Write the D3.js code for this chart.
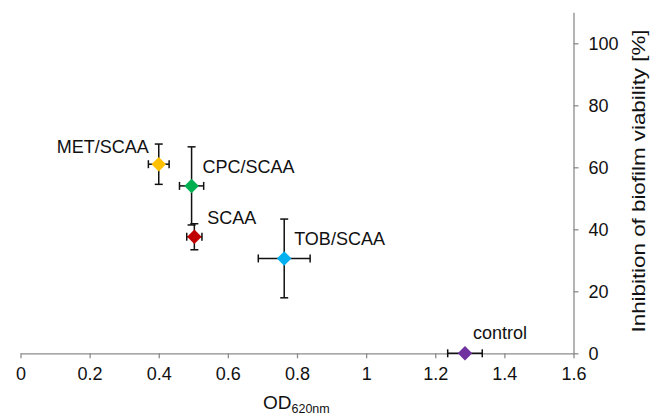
<!DOCTYPE html>
<html>
<head>
<meta charset="utf-8">
<script src="https://cdn.jsdelivr.net/npm/d3@7"></script>
<style>
  html, body { margin: 0; padding: 0; background: #fff; }
  svg { display: block; font-family: "Liberation Sans", Arial, sans-serif; }
</style>
</head>
<body>
<svg id="chart" width="651" height="415"></svg>
<script>
// data
const names   = ["MET/SCAA", "CPC/SCAA", "SCAA", "TOB/SCAA", "control"];
const odVals  = [0.40, 0.495, 0.503, 0.763, 1.286];
const odErr   = [0.03, 0.035, 0.022, 0.075, 0.05];
const inhVals = [61.0, 54.0, 37.6, 30.6, 0];
const inhErr  = [6.5, 12.6, 4.2, 12.7, 0];
const colors  = ["#FFC000", "#00B050", "#C00000", "#00B0F0", "#7030A0"];
const xTicks  = [0, 0.2, 0.4, 0.6, 0.8, 1, 1.2, 1.4, 1.6];
const yTicks  = [0, 20, 40, 60, 80, 100];

const width = 651;
const height = 415;
const svg = d3.select("#chart");

const x = d3.scaleLinear().domain([0, 1.6]).range([20.5, 573.5]);
const y = d3.scaleLinear().domain([0, 110]).range([353.3, 12.3]);

const axisColor = "#8c8c8c";

// x axis
const xAxis = svg.append("g")
  .attr("transform", `translate(0, ${y(0)})`)
  .call(d3.axisBottom(x).tickValues(xTicks).tickSizeInner(5).tickSizeOuter(0)
    .tickPadding(9).tickFormat(d => String(d)));
xAxis.select(".domain").attr("stroke", axisColor).attr("stroke-width", 1.3);
xAxis.selectAll(".tick line").attr("stroke", axisColor).attr("stroke-width", 1.3);
xAxis.selectAll(".tick text").attr("font-size", 18).attr("fill", "#111")
  .attr("font-family", "Liberation Sans, Arial, sans-serif");

// y axis on the right
const yAxis = svg.append("g")
  .attr("transform", `translate(${x(1.6)}, 0)`)
  .call(d3.axisRight(y).tickValues(yTicks).tickSizeInner(5).tickSizeOuter(0)
    .tickPadding(10));
yAxis.select(".domain").attr("stroke", axisColor).attr("stroke-width", 1.3);
yAxis.selectAll(".tick line").attr("stroke", axisColor).attr("stroke-width", 1.3);
yAxis.selectAll(".tick text").attr("font-size", 18).attr("fill", "#111")
  .attr("font-family", "Liberation Sans, Arial, sans-serif");

// axis titles
const xTitle = svg.append("text")
  .attr("x", 263)
  .attr("y", 409)
  .attr("font-size", 19)
  .attr("fill", "#111");
xTitle.append("tspan").text("OD");
xTitle.append("tspan").attr("font-size", 12.5).attr("dy", 4).text("620nm");

svg.append("text")
  .attr("transform", `translate(639, 181) rotate(-90)`)
  .attr("text-anchor", "middle")
  .attr("dy", "0.35em")
  .attr("font-size", 18)
  .attr("textLength", 303)
  .attr("lengthAdjust", "spacingAndGlyphs")
  .attr("fill", "#111")
  .text("Inhibition of biofilm viability [%]");

const points = names.map((n, i) => ({
  name: n, od: odVals[i], odE: odErr[i], inh: inhVals[i], inhE: inhErr[i], color: colors[i]
}));

// error bars
const cap = 4;
const bars = svg.append("g").attr("stroke", "#111").attr("stroke-width", 1.5);
points.forEach(d => {
  const cx = x(d.od), cy = y(d.inh);
  if (d.odE > 0) {
    bars.append("line").attr("x1", x(d.od - d.odE)).attr("x2", x(d.od + d.odE)).attr("y1", cy).attr("y2", cy);
    bars.append("line").attr("x1", x(d.od - d.odE)).attr("x2", x(d.od - d.odE)).attr("y1", cy - cap).attr("y2", cy + cap);
    bars.append("line").attr("x1", x(d.od + d.odE)).attr("x2", x(d.od + d.odE)).attr("y1", cy - cap).attr("y2", cy + cap);
  }
  if (d.inhE > 0) {
    bars.append("line").attr("x1", cx).attr("x2", cx).attr("y1", y(d.inh - d.inhE)).attr("y2", y(d.inh + d.inhE));
    bars.append("line").attr("x1", cx - cap).attr("x2", cx + cap).attr("y1", y(d.inh - d.inhE)).attr("y2", y(d.inh - d.inhE));
    bars.append("line").attr("x1", cx - cap).attr("x2", cx + cap).attr("y1", y(d.inh + d.inhE)).attr("y2", y(d.inh + d.inhE));
  }
});

// diamond markers
const diamond = d3.symbol().type(d3.symbolSquare).size(105);
svg.append("g").selectAll("path")
  .data(points)
  .enter()
  .append("path")
  .attr("d", diamond)
  .attr("transform", d => `translate(${x(d.od)}, ${y(d.inh)}) rotate(45)`)
  .attr("fill", d => d.color);

// point labels, offsets in pixels from each marker
const labelOffset = {
  "MET/SCAA": [-10, -18, "end"],
  "CPC/SCAA": [11, -19, "start"],
  "SCAA":     [13, -19, "start"],
  "TOB/SCAA": [10, -20, "start"],
  "control":  [8, -21, "start"]
};
svg.append("g").selectAll("text")
  .data(points)
  .enter()
  .append("text")
  .attr("x", d => x(d.od) + labelOffset[d.name][0])
  .attr("y", d => y(d.inh) + labelOffset[d.name][1])
  .attr("dy", "0.35em")
  .attr("text-anchor", d => labelOffset[d.name][2])
  .attr("font-size", 18)
  .attr("fill", "#111")
  .text(d => d.name);
</script>
</body>
</html>
